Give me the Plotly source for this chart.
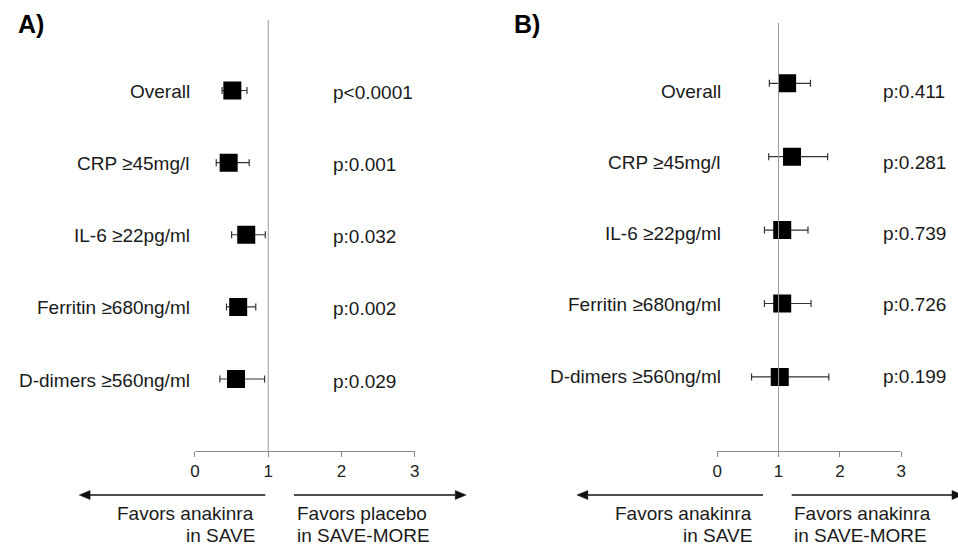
import plotly.graph_objects as go

W, H = 958, 545

categories = ["Overall", "CRP ≥45mg/l", "IL-6 ≥22pg/ml", "Ferritin ≥680ng/ml", "D-dimers ≥560ng/ml"]

a_or = [0.51, 0.46, 0.70, 0.59, 0.56]
a_lo = [0.37, 0.29, 0.50, 0.43, 0.34]
a_hi = [0.71, 0.74, 0.96, 0.83, 0.95]
a_p = ["p<0.0001", "p:0.001", "p:0.032", "p:0.002", "p:0.029"]

b_or = [1.14, 1.22, 1.06, 1.06, 1.02]
b_lo = [0.85, 0.84, 0.77, 0.77, 0.56]
b_hi = [1.52, 1.80, 1.48, 1.53, 1.82]
b_p = ["p:0.411", "p:0.281", "p:0.739", "p:0.726", "p:0.199"]

tick_vals = [0, 1, 2, 3]
tick_text = ["0", "1", "2", "3"]

FONT = "Arial, Liberation Sans, sans-serif"
rows = list(range(len(categories)))


def px(x):
    return x / W


def py(y):
    return 1 - y / H


fig = go.Figure()

for vals, lo, hi, xa, ya in [(a_or, a_lo, a_hi, "x", "y"), (b_or, b_lo, b_hi, "x2", "y2")]:
    fig.add_trace(go.Scatter(
        x=vals, y=rows, xaxis=xa, yaxis=ya, mode="markers",
        marker=dict(symbol="square", size=18, color="black", line=dict(width=0)),
        error_x=dict(type="data", symmetric=False,
                     array=[h - v for h, v in zip(hi, vals)],
                     arrayminus=[v - l for v, l in zip(vals, lo)],
                     color="#333333", thickness=1.2, width=3.5),
        showlegend=False, hoverinfo="skip",
    ))

axis_pos = py(451)
common_x = dict(range=[0, 3], tickvals=tick_vals, ticktext=tick_text, showline=True,
                linecolor="#8a8a8a", linewidth=1, ticks="outside", ticklen=5, tickcolor="#8a8a8a",
                tickfont=dict(family=FONT, size=17, color="#222"), showgrid=False, zeroline=False,
                anchor="free", position=axis_pos, fixedrange=True)

fig.update_layout(
    width=W, height=H, margin=dict(l=0, r=0, t=0, b=0),
    paper_bgcolor="white", plot_bgcolor="rgba(0,0,0,0)",
    xaxis=dict(domain=[px(192), px(414)], **common_x),
    xaxis2=dict(domain=[px(719.7), px(905.7)], **common_x),
    yaxis=dict(domain=[0, 1], range=[6.3015, -1.2548], visible=False, anchor="x", fixedrange=True),
    yaxis2=dict(domain=[0, 1], range=[6.290, -1.1349], visible=False, anchor="x2", fixedrange=True),
)

shapes = []
# reference vertical lines at 1
shapes.append(dict(type="line", xref="x", yref="paper", x0=1, x1=1, y0=axis_pos, y1=py(20),
                   line=dict(color="#999999", width=1)))
shapes.append(dict(type="line", xref="x2", yref="paper", x0=1, x1=1, y0=axis_pos, y1=py(23),
                   line=dict(color="#999999", width=1)))


def arrow(x_from, x_to, y):
    d = 1 if x_to > x_from else -1
    base = x_to - d * 11
    shapes.append(dict(type="line", xref="paper", yref="paper", x0=px(x_from), x1=px(base), y0=py(y), y1=py(y),
                       line=dict(color="#111", width=1.3)))
    shapes.append(dict(type="path", xref="paper", yref="paper",
                       path=f"M {px(x_to)} {py(y)} L {px(base)} {py(y - 4.5)} L {px(base)} {py(y + 4.5)} Z",
                       fillcolor="#111", line=dict(color="#111", width=0.5)))


arrow(263, 75, 495)
arrow(292, 466, 495)
arrow(766, 578, 495)
arrow(795, 968, 495)

fig.update_layout(shapes=shapes)

ann = []
tf = dict(family=FONT, size=19, color="#1a1a1a")
for i, (c, p) in enumerate(zip(categories, a_p)):
    ann.append(dict(text=c, xref="paper", yref="y", x=px(189), y=i, xanchor="right", yanchor="middle",
                    showarrow=False, font=tf, yshift=-1))
    ann.append(dict(text=p, xref="paper", yref="y", x=px(329), y=i, xanchor="left", yanchor="middle",
                    showarrow=False, font=tf, yshift=-2))
b_shift = [-8, -6, -3, -1, 0]
for i, (c, p) in enumerate(zip(categories, b_p)):
    ann.append(dict(text=c, xref="paper", yref="y2", x=px(726), y=i, xanchor="right", yanchor="middle",
                    showarrow=False, font=tf, yshift=b_shift[i]))
    ann.append(dict(text=p, xref="paper", yref="y2", x=px(885), y=i, xanchor="left", yanchor="middle",
                    showarrow=False, font=tf, yshift=b_shift[i]))

ann.append(dict(text="<b>A)</b>", xref="paper", yref="paper", x=px(11), y=py(24), xanchor="left",
                yanchor="middle", showarrow=False, font=dict(family=FONT, size=25, color="black")))
ann.append(dict(text="<b>B)</b>", xref="paper", yref="paper", x=px(512), y=py(24), xanchor="left",
                yanchor="middle", showarrow=False, font=dict(family=FONT, size=25, color="black")))

fav = [
    ("Favors anakinra", 254, 513, "right"), ("in SAVE", 255, 535, "right"),
    ("Favors placebo", 293, 513, "left"), ("in SAVE-MORE", 293, 535, "left"),
    ("Favors anakinra", 757, 513, "right"), ("in SAVE", 757, 535, "right"),
    ("Favors anakinra", 795, 513, "left"), ("in SAVE-MORE", 795, 535, "left"),
]
for t, x, y, a in fav:
    ann.append(dict(text=t, xref="paper", yref="paper", x=px(x), y=py(y), xanchor=a, yanchor="middle",
                    showarrow=False, font=tf))

fig.update_layout(annotations=ann)

fig.write_html("out.html", config={"displayModeBar": False, "staticPlot": True},
               post_script="document.body.style.margin='0';document.body.style.overflow='hidden';")
